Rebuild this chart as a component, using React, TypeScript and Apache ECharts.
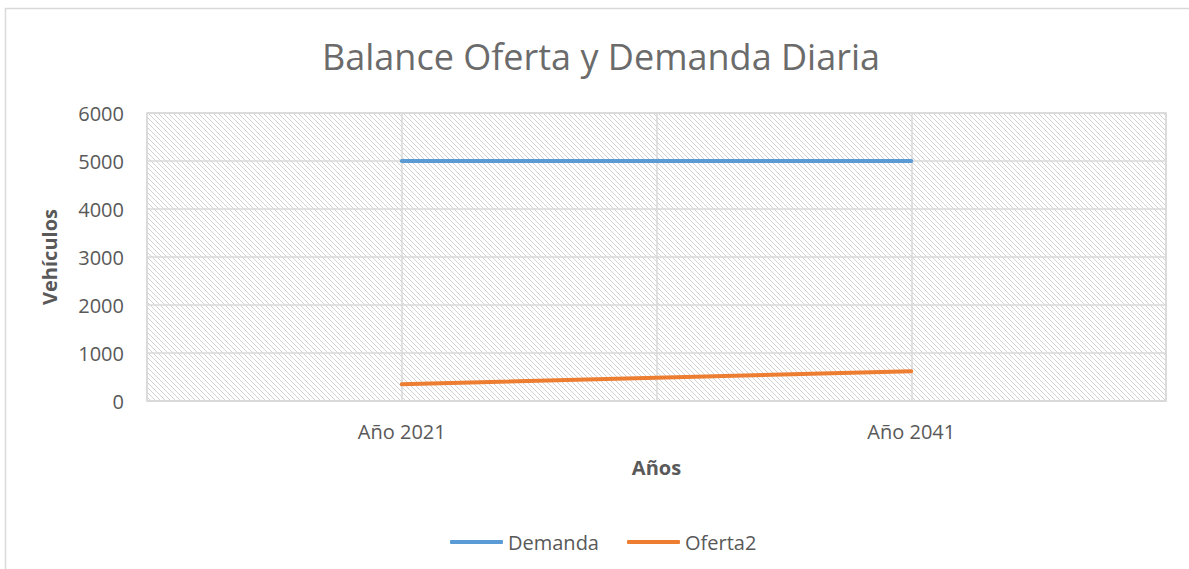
import React, { useEffect, useRef } from "react";
import * as echarts from "echarts";

const categories = ["Año 2021", "Año 2041"];
const demanda = [5000, 5000];
const oferta2 = [350, 620];
const gridBands = ["", "", "", ""];

export default function App() {
  const ref = useRef<HTMLDivElement>(null);
  useEffect(() => {
    if (!ref.current) return;
    const chart = echarts.init(ref.current, undefined, { renderer: "svg" });
    const n = 5;
    const cv = document.createElement("canvas");
    cv.width = n;
    cv.height = n;
    const ctx = cv.getContext("2d")!;
    ctx.fillStyle = "#ffffff";
    ctx.fillRect(0, 0, n, n);
    ctx.fillStyle = "#d2d2d2";
    for (let i = 0; i < n; i++) ctx.fillRect(i, i, 1, 1);
    const font = "'Open Sans', 'Liberation Sans', sans-serif";
    chart.setOption({
      animation: false,
      textStyle: { fontFamily: font },
      title: {
        text: "Balance Oferta y Demanda Diaria",
        left: 317,
        top: 33,
        textStyle: { fontFamily: font, fontSize: 36, fontWeight: "normal", color: "#6b6b6b" },
      },
      graphic: [
        {
          type: "rect",
          shape: { x: 5.5, y: 8.5, width: 1400, height: 800 },
          style: { fill: "none", stroke: "#d9d9d9", lineWidth: 1.5 },
          silent: true,
          z: -10,
        },
      ],
      grid: {
        left: 147,
        right: 23,
        top: 113,
        bottom: 168,
        show: true,
        borderColor: "#d9d9d9",
        borderWidth: 1.5,
        backgroundColor: { image: cv, repeat: "repeat" },
      },
      legend: {
        left: 445,
        top: 527,
        itemWidth: 53,
        itemHeight: 4,
        itemGap: 28,
        icon: "roundRect",
        textStyle: { fontFamily: font, fontSize: 20, color: "#595959" },
        data: ["Demanda", "Oferta2"],
      },
      xAxis: [
        {
          type: "category",
          data: categories,
          boundaryGap: true,
          name: "Años",
          nameLocation: "middle",
          nameGap: 56,
          nameTextStyle: { fontFamily: font, fontSize: 20, fontWeight: "bold", color: "#595959" },
          axisLine: { lineStyle: { color: "#d9d9d9", width: 1.5 } },
          axisTick: { show: false },
          axisLabel: { fontFamily: font, fontSize: 20, color: "#595959", margin: 20 },
          splitLine: { show: false },
        },
        {
          type: "category",
          data: gridBands,
          boundaryGap: true,
          position: "bottom",
          show: true,
          axisLine: { show: false },
          axisTick: { show: false },
          axisLabel: { show: false },
          splitLine: { show: true, lineStyle: { color: "#d9d9d9", width: 1.5 } },
        },
      ],
      yAxis: {
        type: "value",
        min: 0,
        max: 6000,
        interval: 1000,
        name: "Vehículos",
        nameLocation: "middle",
        nameGap: 88,
        nameTextStyle: { fontFamily: font, fontSize: 20, fontWeight: "bold", color: "#595959" },
        axisLine: { show: false },
        axisTick: { show: false },
        axisLabel: {
          fontFamily: font,
          fontSize: 20,
          color: "#595959",
          margin: 23,
          formatter: (v: number) => String(v),
        },
        splitLine: { lineStyle: { color: "#d9d9d9", width: 1.5 } },
      },
      series: [
        {
          name: "Demanda",
          type: "line",
          data: demanda,
          symbol: "none",
          lineStyle: { color: "#5B9BD5", width: 4, cap: "round" },
          itemStyle: { color: "#5B9BD5" },
        },
        {
          name: "Oferta2",
          type: "line",
          data: oferta2,
          symbol: "none",
          lineStyle: { color: "#ED7D31", width: 4, cap: "round" },
          itemStyle: { color: "#ED7D31" },
        },
      ],
    });
    return () => chart.dispose();
  }, []);
  return (
    <div
      ref={ref}
      style={{ position: "absolute", left: 0, top: 0, width: 1189, height: 569 }}
    />
  );
}
